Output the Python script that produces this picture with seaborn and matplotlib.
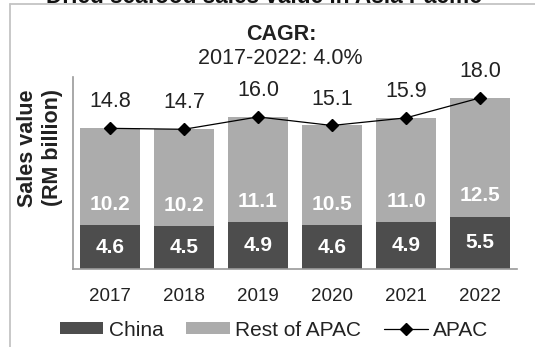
import matplotlib
matplotlib.use("Agg")
import matplotlib.pyplot as plt
from matplotlib.lines import Line2D
from matplotlib.patches import Patch
import seaborn as sns
import pandas as pd

years = ["2017", "2018", "2019", "2020", "2021", "2022"]
china = [4.6, 4.5, 4.9, 4.6, 4.9, 5.5]
rest_of_apac = [10.2, 10.2, 11.1, 10.5, 11.0, 12.5]
apac = [14.8, 14.7, 16.0, 15.1, 15.9, 18.0]

title = "Dried seafood sales value in Asia Pacific"
cagr_head = "CAGR:"
cagr_text = "2017-2022: 4.0%"

CHINA_C = "#4d4d4d"
REST_C = "#acacac"

sns.set_theme(style="white")
plt.rcParams["font.family"] = ["Liberation Sans", "DejaVu Sans"]

df = pd.DataFrame({
    "year": years,
    "china": china,
    "rest": rest_of_apac,
})
df["stack"] = df["china"] + df["rest"]

W, H = 535, 347
fig = plt.figure(figsize=(W / 100, H / 100), dpi=100)
ax = fig.add_axes([73 / W, 1 - 269 / H, (517 - 73) / W, (269 - 77) / H])

# stacked bars: full stack in light grey, China drawn over the base
sns.barplot(data=df, x="year", y="stack", color=REST_C, saturation=1,
            width=0.8, errorbar=None, linewidth=0, ax=ax)
sns.barplot(data=df, x="year", y="china", color=CHINA_C, saturation=1,
            width=0.8, errorbar=None, linewidth=0, ax=ax)

# APAC total line with diamond markers
xs = list(range(len(years)))
ax.plot(xs, apac, color="black", lw=0.9, marker="D", ms=6.5, zorder=5)

for i in xs:
    ax.annotate(f"{china[i]:.1f}", (i, china[i] / 2), ha="center", va="center",
                color="white", fontsize=15, fontweight="bold")
    ax.annotate(f"{rest_of_apac[i]:.1f}", (i, china[i]), xytext=(0, 15),
                textcoords="offset points", ha="center", va="center",
                color="white", fontsize=15, fontweight="bold")
    ax.annotate(f"{apac[i]:.1f}", (i, apac[i]), xytext=(0, 19),
                textcoords="offset points", ha="center", va="center",
                color="#222222", fontsize=15.5)

ax.set_xlim(-0.5, 5.5)
ax.set_ylim(0, 20.2)
ax.set_yticks([])
ax.set_xlabel("")
ax.set_ylabel("")
ax.tick_params(axis="x", length=0, pad=14, labelsize=13.5, labelcolor="#222222")
for side in ["top", "right"]:
    ax.spines[side].set_visible(False)
for side in ["left", "bottom"]:
    ax.spines[side].set_color("#9a9a9a")
    ax.spines[side].set_linewidth(1.2)

# y-axis caption
fig.text(40 / W, 1 - 148 / H, "Sales value\n(RM billion)", rotation=90,
         ha="center", va="center", fontsize=15.5, fontweight="bold",
         color="#222222", linespacing=1.2)

# CAGR note
fig.text(281 / W, 1 - 34 / H, cagr_head, ha="center", va="center",
         fontsize=15.5, fontweight="bold", color="#222222")
fig.text(280 / W, 1 - 58 / H, cagr_text, ha="center", va="center",
         fontsize=15.5, color="#222222")

# heading (runs off the top edge) and surrounding frame
fig.text(264 / W, 1 - 3 / H, title, ha="center", va="baseline",
         fontsize=16.3, fontweight="bold", color="#111111")
fig.add_artist(Line2D([10 / W, 10 / W], [0, 1 - 4 / H], transform=fig.transFigure,
                      color="#c4c4c4", lw=1.3))
fig.add_artist(Line2D([10 / W, 1], [1 - 4 / H, 1 - 4 / H], transform=fig.transFigure,
                      color="#c4c4c4", lw=1.3))

handles = [
    Patch(facecolor=CHINA_C, edgecolor="none"),
    Patch(facecolor=REST_C, edgecolor="none"),
    Line2D([], [], color="black", lw=0.9, marker="D", ms=6.5),
]
fig.legend(handles, ["China", "Rest of APAC", "APAC"], loc="center",
           bbox_to_anchor=(274 / W, 1 - 330 / H), ncol=3, frameon=False,
           fontsize=15, handlelength=2.1, handleheight=0.5, handletextpad=0.25,
           columnspacing=1.1, borderpad=0, labelcolor="#222222")

fig.savefig("out.png", dpi=100)
